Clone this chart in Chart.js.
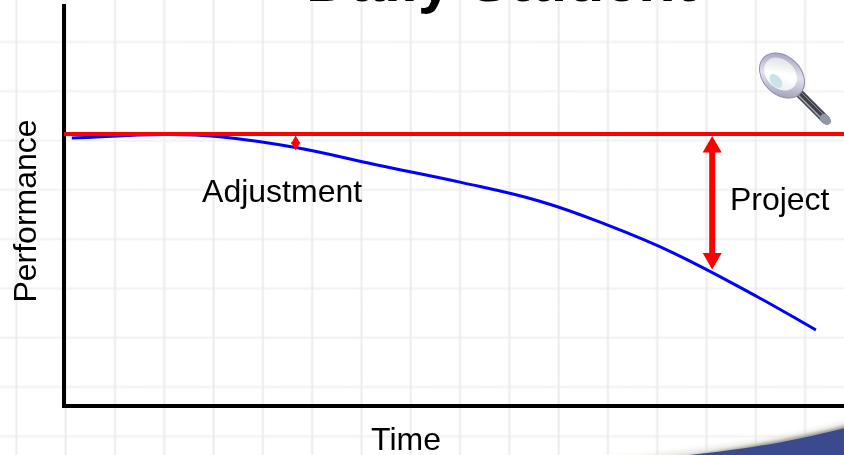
<!DOCTYPE html>
<html>
<head>
<meta charset="utf-8">
<script src="https://cdn.jsdelivr.net/npm/chart.js@4"></script>
<style>
html,body{margin:0;padding:0;background:#fff;overflow:hidden}
#stage{position:relative;width:844px;height:455px;overflow:hidden;background-color:#fff}
#paper{position:absolute;left:0;top:0;width:844px;height:455px;
background-image:
 linear-gradient(90deg,transparent 0,transparent 46.8px,rgba(232,232,236,.3) 46.8px,rgba(232,232,236,.8) 47.8px,rgba(232,232,236,.8) 48.4px,rgba(232,232,236,.3) 49.3px),
 linear-gradient(180deg,transparent 0,transparent 46.8px,rgba(238,238,238,.3) 46.8px,rgba(238,238,238,.75) 47.8px,rgba(238,238,238,.75) 48.4px,rgba(238,238,238,.3) 49.3px);
background-size:49.3px 49.3px;background-position:-31.6px -6px}
svg.deco{position:absolute;left:0;top:0}
canvas{position:absolute;left:0;top:0}
</style>
</head>
<body>
<div id="stage">
<div id="paper"></div>
<svg class="deco" width="844" height="455" viewBox="0 0 844 455">
 <defs>
  <filter id="b3" x="-20%" y="-100%" width="140%" height="300%"><feGaussianBlur stdDeviation="1.5"/></filter>
  <filter id="b5" x="-20%" y="-100%" width="140%" height="300%"><feGaussianBlur stdDeviation="2.5"/></filter>
  <linearGradient id="rim" x1="0" y1="0" x2="1" y2="1"><stop offset="0" stop-color="#8f8fb0"/><stop offset=".5" stop-color="#e2e2ee"/><stop offset="1" stop-color="#8a8aa6"/></linearGradient>
  <linearGradient id="lens" x1="0" y1="0" x2="1" y2="1"><stop offset="0" stop-color="#d2d5da"/><stop offset=".5" stop-color="#ffffff"/><stop offset="1" stop-color="#e6ecee"/></linearGradient>
 </defs>
 <path d="M570 463 C660 454 770 444 860 418 L860 470 L570 470 Z" fill="#dcdcd4" filter="url(#b5)" opacity=".65"/>
 <path d="M640 463 C710 452 780 443 860 422 L860 470 L640 470 Z" fill="#8c8c88" filter="url(#b3)" opacity=".8"/>
 <path d="M680 456 C730 451 785 444 860 424 L860 470 L680 470 Z" fill="#3b4a8e"/>
 <g>
  <line x1="798" y1="92" x2="826" y2="120" stroke="#3f414c" stroke-width="8.5" stroke-linecap="round"/>
  <line x1="797" y1="94" x2="823" y2="120" stroke="#a9acb8" stroke-width="1.4"/>
  <line x1="800" y1="91" x2="825" y2="116" stroke="#8f92a0" stroke-width="1"/>
  <line x1="824" y1="118" x2="827" y2="121" stroke="#9398a6" stroke-width="8" stroke-linecap="round"/>
  <ellipse cx="782" cy="75.5" rx="25.5" ry="19" transform="rotate(45 782 75.5)" fill="url(#rim)" stroke="#8f90a8" stroke-width="1"/>
  <ellipse cx="780.5" cy="74" rx="18.5" ry="14" transform="rotate(45 780.5 74)" fill="url(#lens)"/>
  <ellipse cx="776" cy="81" rx="8" ry="5" transform="rotate(50 776 81)" fill="#c9e4e9"/>
  <ellipse cx="790" cy="79" rx="5" ry="3" transform="rotate(50 790 79)" fill="#fff"/>
 </g>
</svg>
<canvas id="c" width="844" height="455"></canvas>
</div>
<script>
const curveX = [1.0, 12.9, 20.0, 29.7, 40.0, 50.9, 61.0, 69.6, 78.1, 89.0, 96.4];
const curveY = [67.0, 67.9, 67.3, 64.6, 60.3, 55.9, 51.2, 45.3, 38.3, 27.2, 19.0];
const targetX = [0, 100];
const targetY = [68, 68];
const projectArrowX = [83.1, 83.1];
const projectArrowY = [64.75, 36.9];
const adjustArrowX = [29.7, 29.7];
const adjustArrowY = [66.25, 65.25];
const noteLabels = ["Adjustment", "Project", "Time"];
const noteX = [17.7, 85.37, 39.37];
const noteY = [50.95, 49.1, -10.9];
const titleText = "Daily Student";
const yTitle = "Performance";

const zip = (xs, ys) => xs.map((x, i) => ({x, y: ys[i]}));
const FONT = '"Liberation Sans", Arial, sans-serif';

const notesPlugin = {
  id: "notes",
  afterDatasetsDraw(chart) {
    const {ctx, scales: {x, y}} = chart;
    ctx.save();
    ctx.fillStyle = "#000";
    ctx.textBaseline = "alphabetic";
    ctx.textAlign = "left";
    ctx.font = "32px " + FONT;
    noteLabels.forEach((t, i) => ctx.fillText(t, x.getPixelForValue(noteX[i]), y.getPixelForValue(noteY[i])));
    ctx.save();
    ctx.translate(36, 211);
    ctx.rotate(-Math.PI / 2);
    ctx.textAlign = "center";
    ctx.fillText(yTitle, 0, 0);
    ctx.restore();
    ctx.font = "bold 61px " + FONT;
    ctx.textAlign = "center";
    ctx.fillText(titleText, 501, 0.5);
    ctx.restore();
  }
};

new Chart(document.getElementById("c"), {
  type: "line",
  data: {
    datasets: [
      {label: "Performance", data: zip(curveX, curveY), borderColor: "#0000ff", borderWidth: 3,
       tension: 0.4, pointRadius: 0, order: 3},
      {label: "Target", data: zip(targetX, targetY), borderColor: "#ff0000", borderWidth: 4, pointRadius: 0, order: 2},
      {label: "Project gap", data: zip(projectArrowX, projectArrowY), borderColor: "#ff0000", backgroundColor: "#ff0000",
       borderWidth: 6, pointStyle: "triangle", pointRadius: 11, pointBorderWidth: 0, pointRotation: [0, 180], order: 1},
      {label: "Adjustment gap", data: zip(adjustArrowX, adjustArrowY), borderColor: "#ff0000", backgroundColor: "#ff0000",
       borderWidth: 2, pointStyle: "triangle", pointRadius: 5.5, pointBorderWidth: 0, pointRotation: [0, 180], order: 1}
    ]
  },
  options: {
    responsive: false,
    animation: false,
    layout: {autoPadding: false, padding: {top: 6, left: 0, right: 0, bottom: 0}},
    plugins: {legend: {display: false}, tooltip: {enabled: false}, title: {display: false}},
    scales: {
      x: {
        type: "linear", min: 0, max: 100,
        grid: {display: false, drawTicks: false},
        border: {display: true, color: "#000", width: 4},
        ticks: {display: false},
        afterFit(s) { s.height = 49; }
      },
      y: {
        type: "linear", min: 0, max: 100,
        grid: {display: false, drawTicks: false},
        border: {display: true, color: "#000", width: 4},
        ticks: {display: false},
        afterFit(s) { s.width = 64; }
      }
    }
  },
  plugins: [notesPlugin]
});
</script>
</body>
</html>
